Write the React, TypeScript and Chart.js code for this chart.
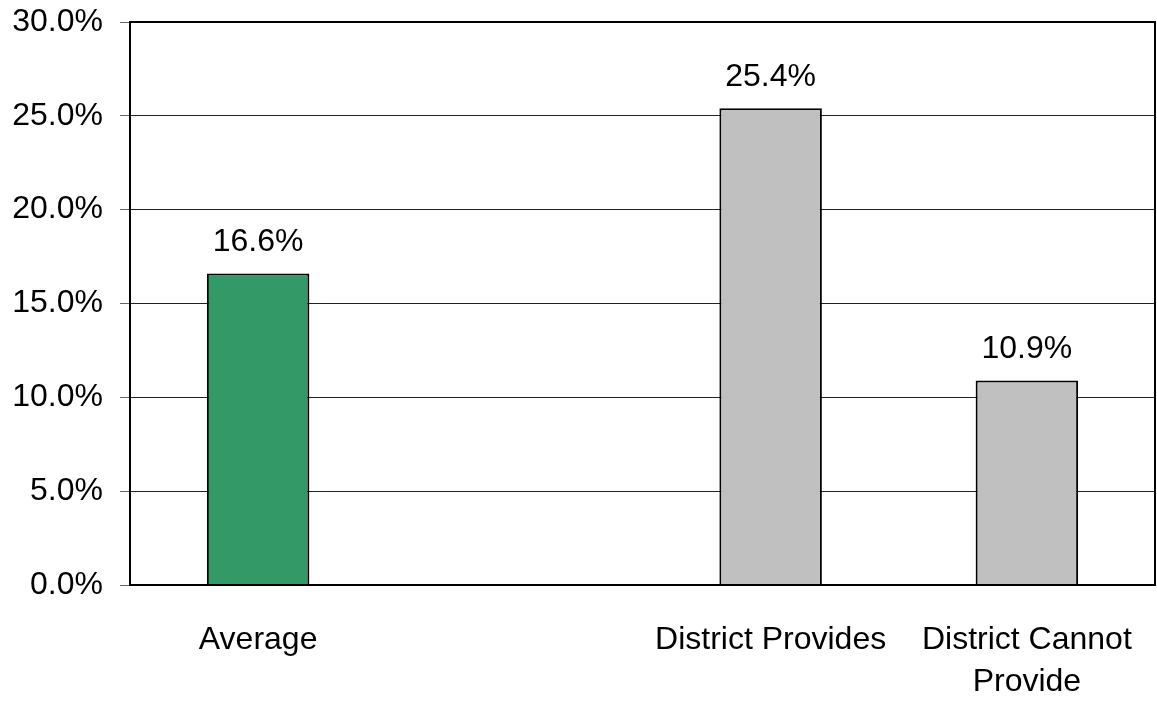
import React, { useEffect, useRef } from "react";
import { Chart, registerables } from "chart.js";

Chart.register(...registerables);

const categories: (string | string[])[] = ["Average", "", "District Provides", ["District Cannot", "Provide"]];
const values: (number | null)[] = [16.6, null, 25.4, 10.9];
const barColors = ["#339966", "#c0c0c0", "#c0c0c0", "#c0c0c0"];
const yTicks = { min: 0, max: 30, step: 5 };

const FONT = '"Liberation Sans", Arial, sans-serif';

const labelPlugin = {
  id: "valueLabels",
  afterDatasetsDraw(chart: any) {
    const ctx = chart.ctx;
    const meta = chart.getDatasetMeta(0);
    ctx.save();
    ctx.font = `32px ${FONT}`;
    ctx.fillStyle = "#000";
    ctx.textAlign = "center";
    ctx.textBaseline = "alphabetic";
    meta.data.forEach((bar: any, i: number) => {
      const v = values[i];
      if (v === null || v === undefined) return;
      ctx.fillText(v.toFixed(1) + "%", bar.x, bar.y - 22);
    });
    const a = chart.chartArea;
    ctx.strokeStyle = "#000";
    ctx.lineWidth = 2;
    ctx.strokeRect(a.left, a.top, a.right - a.left, a.bottom - a.top);
    ctx.restore();
  },
};

export default function App() {
  const ref = useRef<HTMLCanvasElement | null>(null);
  useEffect(() => {
    if (!ref.current) return;
    const chart = new Chart(ref.current, {
      type: "bar",
      data: {
        labels: categories,
        datasets: [
          {
            data: values,
            backgroundColor: barColors,
            borderColor: "#000",
            borderWidth: 2,
            barPercentage: 0.4,
            categoryPercentage: 1,
          },
        ],
      },
      options: {
        animation: false,
        responsive: true,
        maintainAspectRatio: false,
        layout: { padding: { top: 22, right: 2, left: 0, bottom: 0 } },
        plugins: { legend: { display: false }, tooltip: { enabled: false } },
        scales: {
          x: {
            grid: { display: false },
            border: { display: false },
            ticks: {
              color: "#000",
              font: { family: FONT, size: 32, lineHeight: 1.32 },
              padding: 26,
              maxRotation: 0,
              autoSkip: false,
            },
            afterFit(scale: any) {
              scale.height = 117;
              scale.paddingLeft = 0;
              scale.paddingRight = 0;
            },
          },
          y: {
            min: yTicks.min,
            max: yTicks.max,
            grid: { color: "#222", lineWidth: 1, tickLength: 10, tickColor: "#666" },
            border: { display: true, color: "#000", width: 2 },
            ticks: {
              stepSize: yTicks.step,
              color: "#000",
              font: { family: FONT, size: 32 },
              padding: 17,
              callback: (v: any) => Number(v).toFixed(1) + "%",
            },
            afterFit(scale: any) {
              scale.width = 130;
              scale.paddingTop = 0;
              scale.paddingBottom = 0;
            },
          },
        },
      },
      plugins: [labelPlugin],
    });
    return () => chart.destroy();
  }, []);
  return (
    <div style={{ position: "fixed", left: 0, top: 0, width: 1157, height: 702, background: "#fff" }}>
      <canvas ref={ref} />
    </div>
  );
}
